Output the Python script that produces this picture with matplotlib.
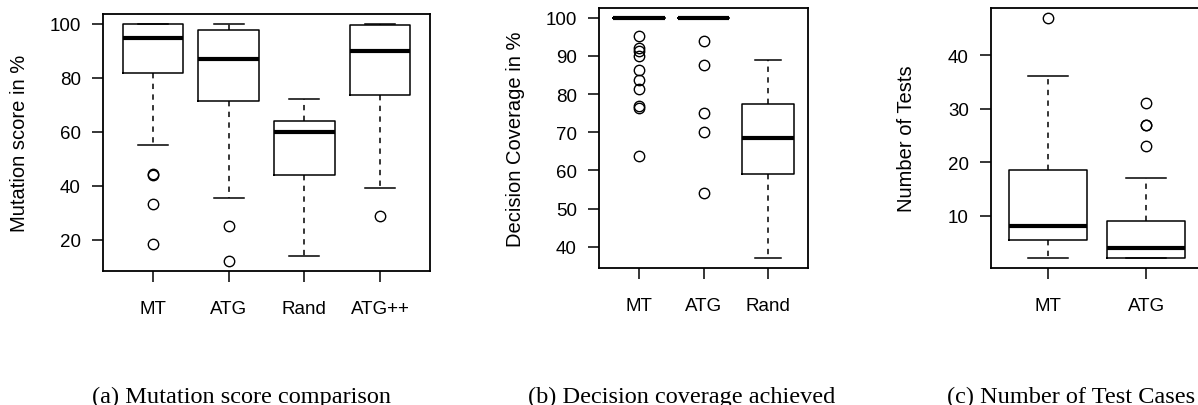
import matplotlib
matplotlib.use("Agg")
import matplotlib.pyplot as plt

# ---------------- data ----------------
groups_a = ["MT", "ATG", "Rand", "ATG++"]
a_whislo = [55.0, 35.5, 14.0, 39.0]
a_q1 = [81.8, 71.2, 44.0, 73.4]
a_med = [94.7, 87.0, 60.0, 90.0]
a_q3 = [100.0, 97.6, 64.0, 99.5]
a_whishi = [100.0, 100.0, 72.0, 100.0]
a_fliers = [[44.4, 44.0, 33.3, 18.5], [25.0, 12.0], [], [29.0]]

groups_b = ["MT", "ATG", "Rand"]
b_whislo = [100.0, 100.0, 37.0]
b_q1 = [100.0, 100.0, 59.2]
b_med = [100.0, 100.0, 68.5]
b_q3 = [100.0, 100.0, 77.4]
b_whishi = [100.0, 100.0, 89.0]
b_fliers = [[95.2, 92.0, 91.3, 90.0, 86.4, 83.6, 81.4, 77.0, 76.3, 63.7],
            [93.8, 87.5, 75.0, 70.0, 54.2], []]

groups_c = ["MT", "ATG"]
c_whislo = [2.0, 2.0]
c_q1 = [5.5, 2.0]
c_med = [8.0, 4.0]
c_q3 = [18.5, 9.0]
c_whishi = [36.0, 17.0]
c_fliers = [[47.0], [31.0, 27.0, 27.0, 23.0]]

ylabels = ["Mutation score in %", "Decision Coverage in %", "Number of Tests"]
captions = ["(a) Mutation score comparison", "(b) Decision coverage achieved",
            "(c) Number of Test Cases"]
yticks_list = [[20, 40, 60, 80, 100], [40, 50, 60, 70, 80, 90, 100], [10, 20, 30, 40]]

# ---------------- figure ----------------
W, H = 1198, 406
fig = plt.figure(figsize=(W / 100, H / 100), dpi=100)
sans = "Liberation Sans"
serif = "Liberation Serif"

def px_axes(l, t, r, b):
    return fig.add_axes([l / W, 1 - b / H, (r - l) / W, (b - t) / H])

ax_specs = [
    (px_axes(103, 15, 430, 272), groups_a, a_whislo, a_q1, a_med, a_q3, a_whishi, a_fliers),
    (px_axes(599, 9, 808, 269), groups_b, b_whislo, b_q1, b_med, b_q3, b_whishi, b_fliers),
    (px_axes(991, 9, 1203, 269), groups_c, c_whislo, c_q1, c_med, c_q3, c_whishi, c_fliers),
]

for i, (ax, names, wlo, q1, med, q3, whi, fl) in enumerate(ax_specs):
    stats = []
    for j in range(len(names)):
        stats.append(dict(label=names[j], whislo=wlo[j], q1=q1[j], med=med[j],
                          q3=q3[j], whishi=whi[j], fliers=fl[j]))
    ax.bxp(stats, positions=range(1, len(names) + 1), widths=0.8, capwidths=0.4,
           boxprops=dict(color="black", linewidth=1.1),
           medianprops=dict(color="black", linewidth=3.0, solid_capstyle="butt"),
           whiskerprops=dict(color="black", linewidth=1.1, linestyle=(0, (3.5, 3.5))),
           capprops=dict(color="black", linewidth=1.1),
           flierprops=dict(marker="o", markerfacecolor="none", markeredgecolor="black",
                           markersize=7.5, markeredgewidth=1.0, linestyle="none"))
    n = len(names)
    ax.set_xlim(0.5 - 0.04 * n, n + 0.5 + 0.04 * n)
    allv = wlo + whi + [v for f in fl for v in f]
    lo, hi = min(allv), max(allv)
    rng = hi - lo
    ax.set_ylim(lo - 0.04 * rng, hi + 0.04 * rng)
    ax.set_yticks(yticks_list[i])
    ax.set_yticklabels([str(v) for v in yticks_list[i]], fontfamily=sans, fontsize=13.5)
    ax.set_xticks(range(1, n + 1))
    ax.set_xticklabels(names, fontfamily=sans, fontsize=13.5)
    ax.tick_params(axis="y", direction="out", length=8, width=1.1, pad=8)
    ax.tick_params(axis="x", direction="out", length=8, width=1.1, pad=13)
    for s in ax.spines.values():
        s.set_linewidth(1.3)
    ax.set_ylabel(ylabels[i], fontfamily=sans, fontsize=14.5)

# y-label anchor positions (pixel x)
ylabel_x = [29, 525, 916]
for (ax, *_), xp in zip(ax_specs, ylabel_x):
    bb = ax.get_position()
    ax.yaxis.set_label_coords((xp / W - bb.x0) / bb.width, 0.5)

# captions
cap_size = 17.5
fig.text(92 / W, 3 / H, captions[0], fontfamily=serif, fontsize=cap_size, ha="left", va="baseline")
fig.text(835 / W, 3 / H, captions[1], fontfamily=serif, fontsize=cap_size, ha="right", va="baseline")
fig.text(947 / W, 3 / H, captions[2], fontfamily=serif, fontsize=cap_size, ha="left", va="baseline")

fig.savefig("out.png", dpi=100)
